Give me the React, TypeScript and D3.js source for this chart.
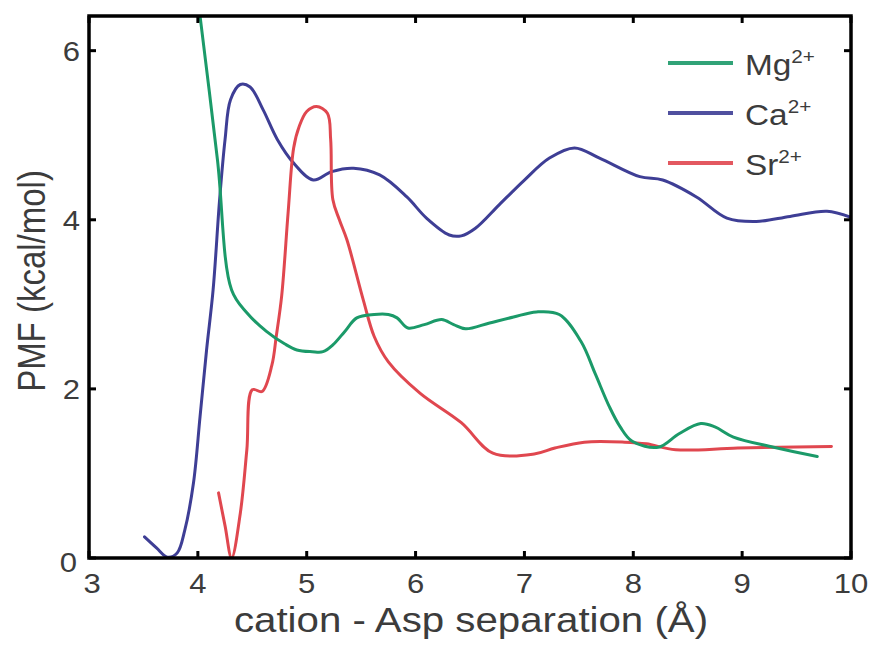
import React from "react";
import * as d3 from "d3";

// PMF curves (kcal/mol) versus cation–Asp separation (Å)
const mgX = [4.0, 4.18, 4.31, 4.45, 4.63, 4.8, 4.91, 5.05, 5.15, 5.24, 5.35, 5.46, 5.62, 5.75, 5.83, 5.93, 6.08, 6.24, 6.35, 6.46, 6.68, 6.9, 7.11, 7.32, 7.52, 7.65, 7.78, 7.88, 7.99, 8.23, 8.42, 8.62, 8.75, 8.92, 9.29, 9.69];
const mgY = [6.62, 4.71, 3.17, 2.9, 2.68, 2.53, 2.46, 2.44, 2.44, 2.52, 2.68, 2.84, 2.88, 2.88, 2.84, 2.72, 2.76, 2.82, 2.76, 2.71, 2.78, 2.85, 2.91, 2.88, 2.56, 2.18, 1.79, 1.55, 1.38, 1.31, 1.47, 1.59, 1.55, 1.43, 1.31, 1.2];

const caX = [3.51, 3.62, 3.72, 3.81, 3.88, 3.96, 4.02, 4.08, 4.14, 4.2, 4.25, 4.3, 4.39, 4.48, 4.6, 4.73, 4.88, 5.06, 5.23, 5.43, 5.67, 5.92, 6.1, 6.31, 6.42, 6.55, 6.77, 7.0, 7.23, 7.46, 7.69, 8.06, 8.27, 8.58, 8.86, 9.13, 9.44, 9.78, 10.0];
const caY = [0.25, 0.12, 0.01, 0.06, 0.33, 0.89, 1.67, 2.46, 3.17, 4.24, 4.95, 5.42, 5.6, 5.57, 5.3, 4.95, 4.67, 4.47, 4.57, 4.61, 4.53, 4.27, 4.02, 3.82, 3.81, 3.9, 4.18, 4.47, 4.73, 4.85, 4.73, 4.51, 4.47, 4.27, 4.02, 3.98, 4.04, 4.1, 4.03];

const srX = [4.19, 4.25, 4.31, 4.39, 4.45, 4.5, 4.59, 4.68, 4.72, 4.77, 4.83, 4.88, 4.93, 5.0, 5.09, 5.19, 5.22, 5.24, 5.3, 5.37, 5.52, 5.62, 5.75, 6.04, 6.42, 6.71, 7.09, 7.28, 7.55, 7.92, 8.12, 8.39, 8.96, 9.82];
const srY = [0.77, 0.38, 0.0, 0.53, 1.28, 1.99, 1.97, 2.28, 2.62, 3.1, 4.1, 4.85, 5.1, 5.28, 5.34, 5.26, 4.95, 4.24, 4.0, 3.76, 3.05, 2.62, 2.32, 1.95, 1.6, 1.24, 1.23, 1.3, 1.37, 1.37, 1.35, 1.28, 1.3, 1.32];

const xTicks = [3, 4, 5, 6, 7, 8, 9, 10];
const yTicks = [0, 2, 4, 6];

const seriesNames = ["Mg", "Ca", "Sr"];
const seriesCharge = ["2+", "2+", "2+"];
const seriesColors = ["#1b9a69", "#3e3e95", "#e0474f"];

const W = 878;
const H = 647;
const left = 89;
const right = 851;
const top = 16;
const bottom = 558;
const textColor = "#3c3c3c";
const font = "'Liberation Sans', Arial, Helvetica, sans-serif";
const stretch = 1.15;

export default function App() {
  const x = d3.scaleLinear().domain([3, 10]).range([left, right]);
  const y = d3.scaleLinear().domain([0, 6.41]).range([bottom, top]);

  const line = d3
    .line<[number, number]>()
    .x((d) => x(d[0]))
    .y((d) => y(d[1]))
    .curve(d3.curveCatmullRom.alpha(0.5));

  const series = [
    d3.zip(mgX, mgY) as [number, number][],
    d3.zip(caX, caY) as [number, number][],
    d3.zip(srX, srY) as [number, number][],
  ];

  const tickLen = 7;

  return (
    <svg
      width={W}
      height={H}
      style={{ position: "absolute", left: 0, top: 0, background: "#fff" }}
      fontFamily={font}
    >
      <defs>
        <clipPath id="plotArea">
          <rect x={left} y={top} width={right - left} height={bottom - top} />
        </clipPath>
      </defs>

      {/* data curves */}
      <g clipPath="url(#plotArea)" fill="none" strokeWidth={3} strokeLinejoin="round" strokeLinecap="round">
        <path d={line(series[1]) ?? ""} stroke={seriesColors[1]} />
        <path d={line(series[2]) ?? ""} stroke={seriesColors[2]} />
        <path d={line(series[0]) ?? ""} stroke={seriesColors[0]} />
      </g>

      {/* ticks, mirrored on all four sides */}
      <g stroke="#000" strokeWidth={3}>
        {xTicks.map((t) => (
          <g key={"xt" + t}>
            <line x1={x(t)} x2={x(t)} y1={bottom} y2={bottom - tickLen} />
            <line x1={x(t)} x2={x(t)} y1={top} y2={top + tickLen} />
          </g>
        ))}
        {yTicks.map((t) => (
          <g key={"yt" + t}>
            <line x1={left} x2={left + tickLen} y1={y(t)} y2={y(t)} />
            <line x1={right} x2={right - tickLen} y1={y(t)} y2={y(t)} />
          </g>
        ))}
      </g>

      {/* frame */}
      <rect
        x={left}
        y={top}
        width={right - left}
        height={bottom - top}
        fill="none"
        stroke="#000"
        strokeWidth={3.5}
      />

      {/* x tick labels */}
      {xTicks.map((t) => (
        <text
          key={"xl" + t}
          transform={`translate(${x(t) + (t === 3 ? 3 : 0)},593) scale(${stretch},1)`}
          textAnchor="middle"
          fontSize={27}
          fill={textColor}
        >
          {t}
        </text>
      ))}

      {/* y tick labels */}
      {yTicks.map((t) => (
        <text
          key={"yl" + t}
          transform={`translate(${t === 0 ? 77 : 80},${y(t) + (t === 0 ? 14 : 10)}) scale(${stretch},1)`}
          textAnchor="end"
          fontSize={27}
          fill={textColor}
        >
          {t}
        </text>
      ))}

      {/* axis titles */}
      <text
        transform={`translate(471,632) scale(${stretch},1)`}
        textAnchor="middle"
        fontSize={35}
        fill={textColor}
      >
        cation - Asp separation (Å)
      </text>
      <text
        transform={`translate(45,281) rotate(-90) scale(1,${stretch})`}
        textAnchor="middle"
        fontSize={33}
        fill={textColor}
      >
        PMF (kcal/mol)
      </text>

      {/* legend */}
      {seriesNames.map((name, i) => {
        const ly = 63 + i * 50;
        return (
          <g key={"lg" + name}>
            <line x1={668} x2={733} y1={ly} y2={ly} stroke={seriesColors[i]} strokeWidth={4} opacity={0.9} />
            <text transform={`translate(745,${ly + 12}) scale(${stretch},1)`} fontSize={29} fill={textColor}>
              {name}
              <tspan fontSize={18} dy={-12}>
                {seriesCharge[i]}
              </tspan>
            </text>
          </g>
        );
      })}
    </svg>
  );
}
